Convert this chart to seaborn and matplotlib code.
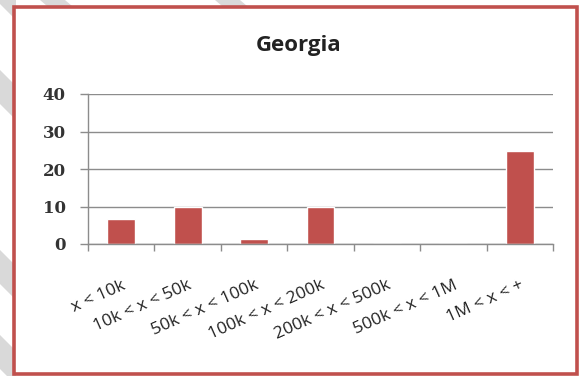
import matplotlib
matplotlib.use("Agg")
import matplotlib.pyplot as plt
from matplotlib.patches import Rectangle, Polygon
import seaborn as sns
import pandas as pd

# Counts per size bracket
categories = ["x < 10k", "10k < x < 50k", "50k < x < 100k", "100k < x < 200k",
              "200k < x < 500k", "500k < x < 1M", "1M < x < +"]
values = [6.7, 9.9, 1.3, 9.9, 0, 0, 24.9]
yticks = [0, 10, 20, 30, 40]
title = "Georgia"

bar_color = "#C0504D"
grid_color = "#8C8C8C"

df = pd.DataFrame({"bracket": categories, "count": values})

sns.set_theme(style="white")
plt.rcParams["font.family"] = ["Open Sans", "DejaVu Sans"]

W, H = 581, 376
fig = plt.figure(figsize=(W / 100, H / 100), dpi=100)
fig.patch.set_facecolor("white")

# light grey diagonal bands in the margin behind the chart frame
for y0 in [-30, 70, 250, 335]:
    band = Polygon([(0, 1 - y0 / H), (16 / W, 1 - (y0 + 16) / H),
                    (16 / W, 1 - (y0 + 50) / H), (0, 1 - (y0 + 34) / H)],
                   closed=True, transform=fig.transFigure,
                   facecolor="#D9D9D9", edgecolor="none", zorder=0)
    fig.patches.append(band)
for x0 in [40, 215]:
    band = Polygon([(x0 / W, 1), ((x0 + 25) / W, 1),
                    ((x0 + 32) / W, 1 - 6 / H), ((x0 + 7) / W, 1 - 6 / H)],
                   closed=True, transform=fig.transFigure,
                   facecolor="#D9D9D9", edgecolor="none", zorder=0)
    fig.patches.append(band)

# chart frame
frame = Rectangle((14 / W, 1 - 374 / H), (577 - 14) / W, (374 - 7) / H,
                  transform=fig.transFigure, facecolor="white",
                  edgecolor=bar_color, linewidth=2.6, zorder=1)
fig.patches.append(frame)

ax = fig.add_axes([88 / W, 1 - 244 / H, (553 - 88) / W, (244 - 94) / H])
ax.set_facecolor("none")
ax.set_zorder(2)

sns.barplot(data=df, x="bracket", y="count", color=bar_color,
            saturation=1, width=0.42, ax=ax)

ax.set_ylim(0, 40)
ax.set_xlim(-0.5, len(categories) - 0.5)
ax.set_yticks(yticks)
ax.set_yticklabels([str(t) for t in yticks], family="DejaVu Serif",
                   fontweight="bold", fontsize=12, color="#333333")
ax.yaxis.grid(True, color=grid_color, linewidth=1)
ax.set_axisbelow(True)

# category boundaries as x ticks, labels centred under the bars
ax.set_xticks([i + 0.5 for i in range(-1, len(categories))], minor=False)
ax.set_xticklabels([""] * (len(categories) + 1))
ax.set_xticks(range(len(categories)), minor=True)
ax.set_xticklabels(categories, minor=True, rotation=24, ha="right",
                   rotation_mode="anchor", fontsize=12.5, color="#222222")
ax.tick_params(axis="x", which="major", direction="out", length=5,
               width=1, color=grid_color, bottom=True)
ax.tick_params(axis="x", which="minor", length=0, pad=24)
ax.tick_params(axis="y", direction="out", length=6, width=1,
               color=grid_color, left=True, pad=10)

for side in ["top", "right"]:
    ax.spines[side].set_visible(False)
for side in ["left", "bottom"]:
    ax.spines[side].set_color(grid_color)
    ax.spines[side].set_linewidth(1)

ax.set_xlabel("")
ax.set_ylabel("")
fig.text(299 / W, 1 - 45 / H, title, ha="center", va="center",
         fontsize=16, fontweight="bold", color="#222222")

fig.savefig("out.png", dpi=100)
